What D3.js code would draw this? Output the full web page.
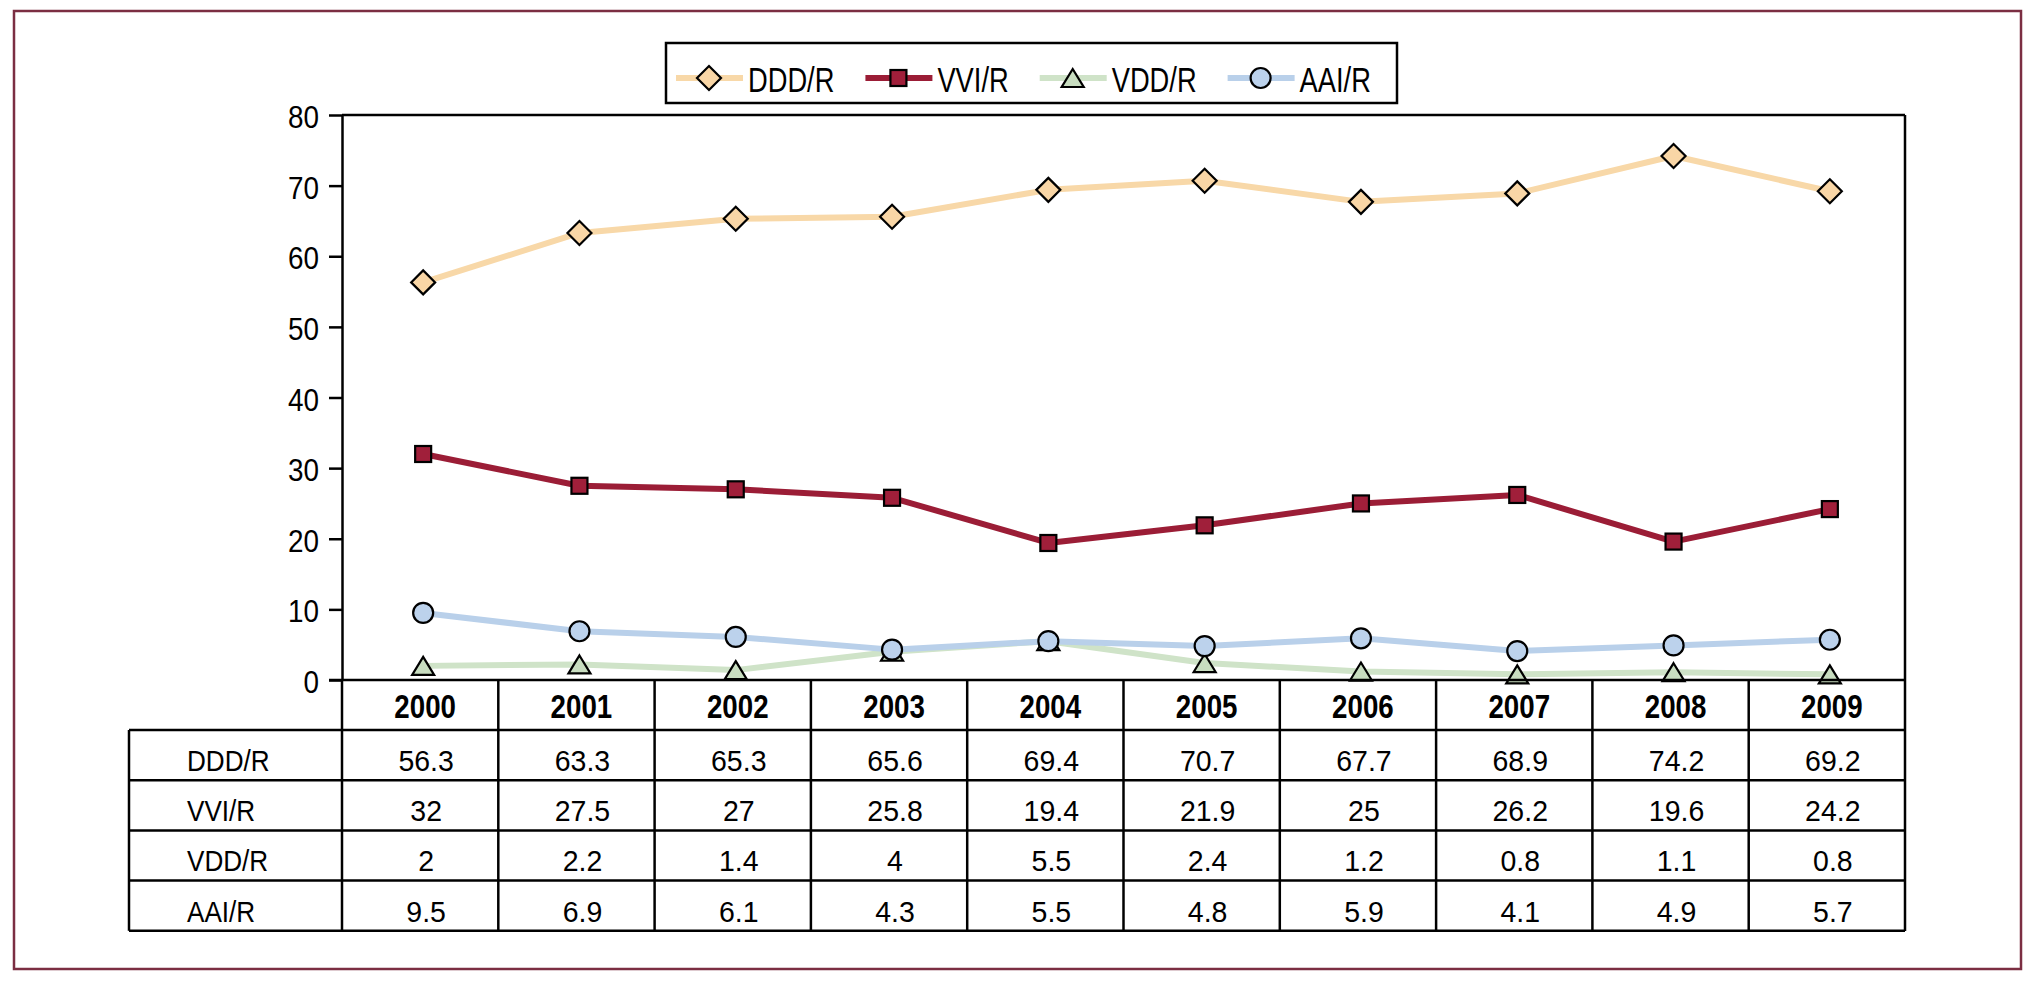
<!DOCTYPE html>
<html>
<head>
<meta charset="utf-8">
<script src="https://cdn.jsdelivr.net/npm/d3@7/dist/d3.min.js"></script>
<style>
html,body{margin:0;padding:0;background:#fff;}
svg text{font-family:"Liberation Sans Narrow","Arial Narrow","Liberation Sans",Arial,sans-serif;fill:#000;}
</style>
</head>
<body>
<svg id="chart" width="2037" height="983"></svg>
<script>
const years = ["2000","2001","2002","2003","2004","2005","2006","2007","2008","2009"];
const seriesNames = ["DDD/R","VVI/R","VDD/R","AAI/R"];
const dddValues = [56.3,63.3,65.3,65.6,69.4,70.7,67.7,68.9,74.2,69.2];
const vviValues = [32,27.5,27,25.8,19.4,21.9,25,26.2,19.6,24.2];
const vddValues = [2,2.2,1.4,4,5.5,2.4,1.2,0.8,1.1,0.8];
const aaiValues = [9.5,6.9,6.1,4.3,5.5,4.8,5.9,4.1,4.9,5.7];
const yTicks = [0,10,20,30,40,50,60,70,80];

(function(){
const seriesValues = [dddValues, vviValues, vddValues, aaiValues];
const lineColors = ["#f8d8a8","#9b1d36","#cfe3c8","#b9d0ea"];
const fillColors = ["#f9d6a6","#a01f3a","#c8ddc0","#bcd2ec"];
const shapes = ["diamond","square","triangle","circle"];

const svg = d3.select("#chart");

const probe = svg.append("text").attr("font-size",100).text("00000");
const pw = probe.node().getComputedTextLength();
probe.remove();
const narrow = pw < 250;
const k = narrow ? 1.22 : 1.0;

function txt(parent, x, y, str, size, sx, anchor, bold){
  const t = parent.append("text")
    .attr("transform",`translate(${x},${y}) scale(${Math.min(1,sx*k)},1)`)
    .attr("dy","0.36em").attr("font-size",size)
    .attr("text-anchor",anchor||"start").text(str);
  if(bold) t.attr("font-weight","bold");
  return t;
}

svg.append("rect").attr("x",14).attr("y",11).attr("width",2007).attr("height",958)
  .attr("fill","none").attr("stroke","#7b2e42").attr("stroke-width",2.5);

const pLeft = 342, pRight = 1905, pTop = 115, pBottom = 680;
const x = d3.scaleBand().domain(years).range([pLeft,pRight]);
const y = d3.scaleLinear().domain([0,80]).range([pBottom,pTop]);

svg.append("line").attr("x1",pLeft).attr("x2",pRight).attr("y1",pTop).attr("y2",pTop)
  .attr("stroke","#000").attr("stroke-width",2.5);

const yAxis = d3.axisLeft(y).tickValues(yTicks).tickSize(13).tickPadding(9).tickSizeOuter(0);
const gy = svg.append("g").attr("transform",`translate(${pLeft},0)`).call(yAxis);
gy.attr("font-family",null).attr("font-size",null);
gy.select(".domain").attr("stroke","#000").attr("stroke-width",2.5);
gy.selectAll(".tick line").attr("stroke","#000").attr("stroke-width",2.5);
gy.selectAll(".tick text")
  .attr("font-size",32).attr("fill","#000").attr("dy","0.36em")
  .attr("x",null)
  .attr("transform",`translate(-23,1) scale(${Math.min(1,0.87*k)},1)`);

function marker(sel, shape, fill){
  if(shape==="diamond"){
    sel.append("path").attr("d","M0,-12L12,0L0,12L-12,0Z");
  } else if(shape==="square"){
    sel.append("rect").attr("x",-8).attr("y",-8).attr("width",16).attr("height",16);
  } else if(shape==="triangle"){
    sel.append("path").attr("d","M0,-9L11,9L-11,9Z");
  } else {
    sel.append("circle").attr("r",10);
  }
  sel.selectAll("*").attr("fill",fill).attr("stroke","#000").attr("stroke-width",2.2);
}

const cx = d => x(d) + x.bandwidth()/2 + 3;
const line = d3.line().x((v,i)=>cx(years[i])).y(v=>y(v));

const order = [0,1,2,3];
order.forEach(si=>{
  svg.append("path").datum(seriesValues[si]).attr("d",line)
    .attr("fill","none").attr("stroke",lineColors[si]).attr("stroke-width",6)
    .attr("stroke-linejoin","round");
});
order.forEach(si=>{
  seriesValues[si].forEach((v,i)=>{
    const g = svg.append("g").attr("transform",`translate(${cx(years[i])},${y(v)})`);
    marker(g, shapes[si], fillColors[si]);
  });
});

svg.append("line").attr("x1",pRight).attr("x2",pRight).attr("y1",pTop).attr("y2",931)
  .attr("stroke","#000").attr("stroke-width",2.5);

const tableLeft = 129, headerTop = 680, headerBottom = 730, rowH = 50.2;
const tableBottom = headerBottom + rowH*seriesNames.length;
const tl = svg.append("g").attr("stroke","#000").attr("stroke-width",2.5);
tl.append("line").attr("x1",pLeft-13).attr("x2",pRight).attr("y1",headerTop).attr("y2",headerTop);
for(let r=0;r<=seriesNames.length;r++){
  const yy = headerBottom + r*rowH;
  tl.append("line").attr("x1",tableLeft).attr("x2",pRight).attr("y1",yy).attr("y2",yy);
}
tl.append("line").attr("x1",tableLeft).attr("x2",tableLeft).attr("y1",headerBottom).attr("y2",tableBottom);
years.forEach(yr=>{
  const xx = x(yr);
  tl.append("line").attr("x1",xx).attr("x2",xx).attr("y1",headerTop).attr("y2",tableBottom);
});

years.forEach(yr=>{
  txt(svg, cx(yr)+2, (headerTop+headerBottom)/2+1, yr, 33, 0.84, "middle", true);
});

seriesNames.forEach((name,r)=>{
  const yc = headerBottom + r*rowH + rowH/2 + 5;
  txt(svg, 187, yc, name, 30, 0.87);
  seriesValues[r].forEach((v,i)=>{
    txt(svg, cx(years[i])+3, yc, String(v), 30, 0.95, "middle");
  });
});

const lg = svg.append("g");
lg.append("rect").attr("x",666).attr("y",43).attr("width",731).attr("height",60)
  .attr("fill","#fff").attr("stroke","#000").attr("stroke-width",2.5);
let lx = 676;
const ly = 78;
seriesNames.forEach((name,si)=>{
  lg.append("line").attr("x1",lx).attr("x2",lx+67).attr("y1",ly).attr("y2",ly)
    .attr("stroke",lineColors[si]).attr("stroke-width",6);
  const g = lg.append("g").attr("transform",`translate(${lx+33},${ly})`);
  marker(g, shapes[si], fillColors[si]);
  const t = txt(lg, lx+72, ly+1, name, 35, 0.78);
  const w = t.node().getBoundingClientRect().width;
  lx = lx + 72 + w + 31;
});
})();
</script>
</body>
</html>
